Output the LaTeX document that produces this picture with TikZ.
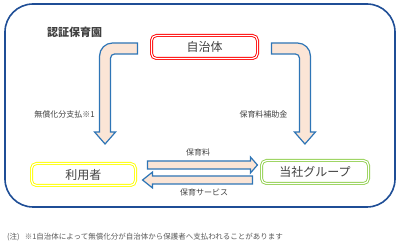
\documentclass[tikz,border=0pt]{standalone}
\usepackage{fontspec}
\setmainfont{Noto Sans CJK JP}
\usetikzlibrary{calc}
\definecolor{hcFrame}{HTML}{1F4E96}
\definecolor{hcInk}{HTML}{404040}
\definecolor{hcMuted}{HTML}{595959}
\definecolor{hcRed}{HTML}{FF0000}
\definecolor{hcYellow}{HTML}{FFFF00}
\definecolor{hcGreen}{HTML}{92D050}
\definecolor{hcArrowLine}{HTML}{2E75B6}
\definecolor{hcArrowFill}{HTML}{FBE5D6}
\tikzset{
  hc diagram/.style={x=1pt, y=-1pt, text=hcInk, line join=miter},
  hc frame/.style={draw=hcFrame, line width=1.6pt, rounded corners=28pt},
  hc box/.style={rectangle, rounded corners=5pt, line width=0.9pt,
    double=white, double distance=1.2pt, inner sep=0pt,
    font=\fontsize{12}{14}\selectfont},
  hc block/.style={draw=hcArrowLine, fill=hcArrowFill, line width=1.2pt},
  hc label/.style={font=\fontsize{8}{10}\selectfont, text=hcInk, inner sep=0pt}
}

\begin{document}
\begin{tikzpicture}[hc diagram]
\useasboundingbox (0,0) rectangle (400,243);
\draw[hc frame] (5,4) rectangle (395,207);
\node[font=\fontsize{11}{13}\selectfont\bfseries, anchor=west, inner sep=0pt] (title) at (47,32) {認証保育園};
\node[hc box, draw=hcRed, minimum width=106pt, minimum height=23pt] (city) at (204.5,47) {自治体};
\node[hc box, draw=hcYellow, minimum width=104pt, minimum height=22pt] (user) at (83.5,174.5) {利用者};
\node[hc box, draw=hcGreen, minimum width=107pt, minimum height=23pt] (group) at (315,172) {当社グループ};
% city to user and group
\draw[hc block] ($(city.west)+(-13.5,-4)$) -- ++(-25,0) to[out=180,in=90] ++(-13,13) -- ++(0,76)
  -- ++(-5,0) -- ++(10.5,12) -- ++(10.5,-12) -- ++(-5,0) -- ++(0,-74)
  to[out=90,in=180] ++(4,-4) -- ++(23,0) -- cycle;
\draw[hc block] ($(city.east)+(13.5,-4)$) -- ++(26,0) to[out=0,in=90] ++(13,13) -- ++(0,76)
  -- ++(5,0) -- ++(-10.5,12) -- ++(-10.5,-12) -- ++(5,0) -- ++(0,-74)
  to[out=90,in=0] ++(-4,-4) -- ++(-24,0) -- cycle;
% user and group
\draw[hc block] ($(user.east)+(11.5,-13.5)$) -- ++(103,0) -- ++(0,-4) -- ++(7,8) -- ++(-7,8)
  -- ++(0,-4) -- ++(-103,0) -- cycle;
\draw[hc block] ($(group.west)+(-8.5,4)$) -- ++(-100,0) -- ++(0,-4) -- ++(-10,8) -- ++(10,8)
  -- ++(0,-4) -- ++(100,0) -- cycle;
\node[hc label] (payLabel) at (64.5,114) {無償化分支払※1};
\node[hc label] (subsidyLabel) at (263.5,114) {保育料補助金};
\node[hc label] (feeLabel) at (198,152) {保育料};
\node[hc label] (serviceLabel) at (204,192) {保育サービス};
\node[font=\fontsize{7.5}{9}\selectfont, text=hcMuted, anchor=west, inner sep=0pt] (note) at (7,237.5)
  {(注)\hspace{5pt}※1自治体によって無償化分が自治体から保護者へ支払われることがあります};
\end{tikzpicture}
\end{document}
